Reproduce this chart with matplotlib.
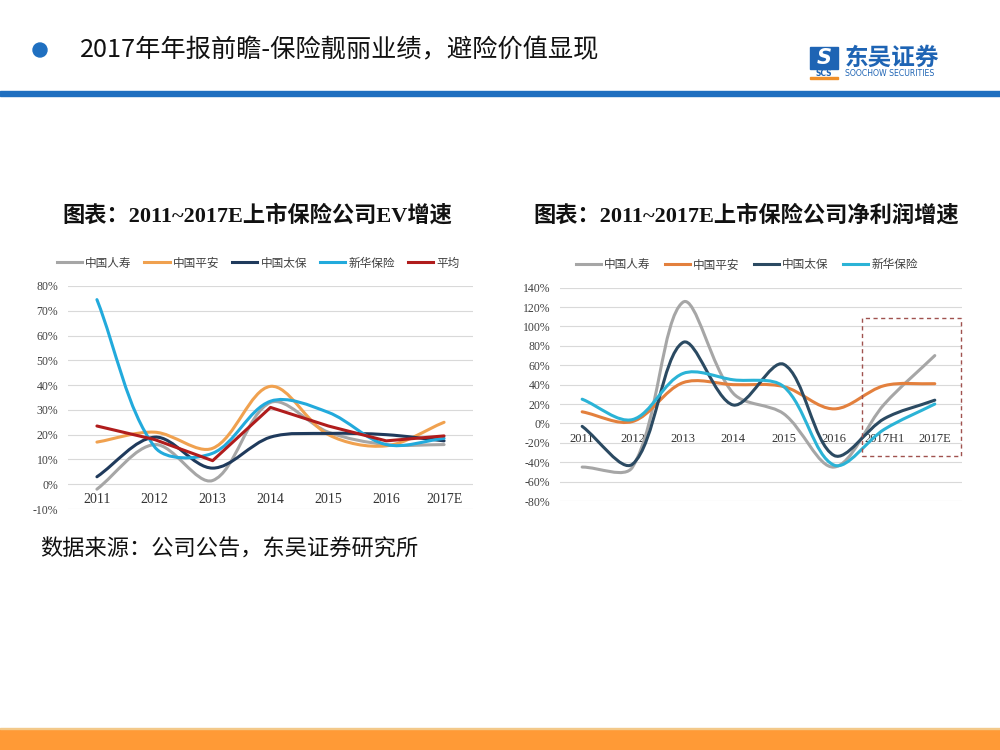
import matplotlib
matplotlib.use("Agg")
import matplotlib.pyplot as plt
import numpy as np
from matplotlib.path import Path
from matplotlib.patches import PathPatch, Rectangle, Ellipse
from matplotlib.lines import Line2D

plt.rcParams['font.family'] = ['Noto Sans CJK SC', 'DejaVu Sans']

# ---------- data (%) ----------
EV_YEARS = ["2011", "2012", "2013", "2014", "2015", "2016", "2017E"]
EV_CHINA_LIFE = [-2, 16, 1.5, 33, 21, 16, 16]
EV_PING_AN = [17, 21, 14.5, 39.5, 20, 15.5, 25]
EV_CPIC = [3, 19, 6.5, 19, 20.5, 20, 17.5]
EV_NCI = [74.5, 15, 12.5, 33.5, 29, 16, 18.5]
EV_AVG = [23.5, 18, 9.5, 31, 23.5, 17.5, 19.5]

NP_YEARS = ["2011", "2012", "2013", "2014", "2015", "2016", "2017H1", "2017E"]
NP_CHINA_LIFE = [-45, -45, 125, 31, 10, -45, 20, 70]
NP_PING_AN = [12, 2, 42, 40, 38, 15, 39, 41]
NP_CPIC = [-3, -42, 83.5, 19, 61, -33, 5, 24]
NP_NCI = [25, 4, 51.5, 45, 38, -43, -6, 20]

EV_TICKS = list(range(-10, 81, 10))
NP_TICKS = list(range(-80, 141, 20))

NAMES = ["中国人寿", "中国平安", "中国太保", "新华保险", "平均"]

# ---------- palette ----------
GREY = "#a6a6a6"
ORANGE_L = "#f0a14f"
ORANGE_R = "#e3803d"
NAVY_L = "#1f3a5c"
NAVY_R = "#2b4a62"
CYAN_L = "#22aadc"
CYAN_R = "#2bb3d6"
RED = "#b01c1c"
GRID = "#d9d9d9"
BLUE = "#1f6fc0"
LOGO_BLUE = "#1e64b4"
BAND_ORANGE = "#ff9a36"
SERIF = ['Liberation Serif', 'Noto Sans CJK SC']


def smooth_line(ax, xs, ys, color, lw=2.2, smooth=True):
    """Excel-style smoothed line: cubic Bezier through the points, with
    tangents scaled by neighbouring segment lengths in screen space."""
    pts = ax.transData.transform(np.column_stack([xs, ys]))
    n = len(pts)
    verts = [pts[0]]
    codes = [Path.MOVETO]
    for i in range(n - 1):
        p1, p2 = pts[i], pts[i + 1]
        if not smooth:
            verts.append(p2)
            codes.append(Path.LINETO)
            continue
        p0 = pts[i - 1] if i > 0 else p1
        p3 = pts[i + 2] if i + 2 < n else p2
        l01 = np.hypot(*(p1 - p0))
        l12 = np.hypot(*(p2 - p1))
        l23 = np.hypot(*(p3 - p2))
        c1 = p1 + (p2 - p0) * l12 / max(l01 + l12, 1e-9) / 3.0
        c2 = p2 - (p3 - p1) * l12 / max(l12 + l23, 1e-9) / 3.0
        verts += [c1, c2, p2]
        codes += [Path.CURVE4] * 3
    verts = ax.transData.inverted().transform(np.array(verts))
    patch = PathPatch(Path(verts, codes), fill=False, edgecolor=color,
                      linewidth=lw, capstyle="round", joinstyle="round",
                      zorder=3, clip_on=False)
    ax.add_patch(patch)


def style_axes(ax, ticks, cats, pad_x, xsize):
    # spine position first: moving it resets the tick labels
    for s in ["top", "right", "left"]:
        ax.spines[s].set_visible(False)
    ax.spines["bottom"].set_position(("data", 0))
    ax.spines["bottom"].set_visible(False)
    ax.set_yticks(ticks)
    ax.set_yticklabels([f"{t}%" for t in ticks], fontfamily=SERIF,
                       fontsize=8.5, color="#404040")
    ax.set_xticks(range(len(cats)))
    ax.set_xticklabels(cats, fontfamily=SERIF, fontsize=xsize, color="#333333")
    ax.grid(axis="y", color=GRID, linewidth=0.8)
    ax.set_axisbelow(True)
    ax.tick_params(axis="y", length=0, pad=7)
    ax.tick_params(axis="x", length=0, pad=pad_x)
    ax.patch.set_alpha(0)


fig = plt.figure(figsize=(10, 7.5), dpi=100)

# ---------- page furniture ----------
fig.patches.append(Ellipse((40 / 1000, 1 - 50 / 750), 14 / 1000, 14 / 750,
                           transform=fig.transFigure, color=BLUE, zorder=5))
fig.text(80 / 1000, 1 - 50 / 750, "2017年年报前瞻-保险靓丽业绩，避险价值显现",
         fontsize=18.2, color="#111111", ha="left", va="center", fontweight="medium")

# logo
fig.patches.append(Rectangle((810 / 1000, 1 - 69 / 750), 28 / 1000, 22 / 750,
                             transform=fig.transFigure, color=LOGO_BLUE))
fig.text(824 / 1000, 1 - 58 / 750, "S", fontsize=15, color="white", ha="center",
         va="center", fontweight="bold", style="italic", family="DejaVu Sans")
fig.text(824 / 1000, 1 - 73.5 / 750, "SCS", fontsize=5.5, color=LOGO_BLUE, ha="center",
         va="center", fontweight="bold", family="DejaVu Sans")
fig.patches.append(Rectangle((810 / 1000, 1 - 79 / 750), 28 / 1000, 2.5 / 750,
                             transform=fig.transFigure, color="#f0902a"))
fig.text(845 / 1000, 1 - 58 / 750, "东吴证券", fontsize=17, color=LOGO_BLUE,
         ha="left", va="center", fontweight="bold")
fig.text(845 / 1000, 1 - 74 / 750, "SOOCHOW SECURITIES", fontsize=5.6,
         color=LOGO_BLUE, ha="left", va="center", family="DejaVu Sans")

fig.patches.append(Rectangle((0, 1 - 95.5 / 750), 1, 4.5 / 750,
                             transform=fig.transFigure, color=BLUE))
fig.patches.append(Rectangle((0, 0), 1, 21 / 750, transform=fig.transFigure,
                             color=BAND_ORANGE))
fig.patches.append(Rectangle((0, 21 / 750), 1, 1.2 / 750, transform=fig.transFigure,
                             color="#f3c98a"))

# titles and source
fig.text(62 / 1000, 1 - 216 / 750, "图表：2011~2017E上市保险公司EV增速",
         fontsize=16, fontweight="bold", family=SERIF, ha="left", va="center",
         color="#111111")
fig.text(533 / 1000, 1 - 216 / 750, "图表：2011~2017E上市保险公司净利润增速",
         fontsize=16, fontweight="bold", family=SERIF, ha="left", va="center",
         color="#111111")
fig.text(40 / 1000, 1 - 549 / 750, "数据来源：公司公告，东吴证券研究所",
         fontsize=16, ha="left", va="center", color="#111111", fontweight="medium")

# ---------- left chart: EV growth ----------
axl = fig.add_axes([68 / 1000, 1 - 509 / 750, 405 / 1000, 223 / 750])
axl.set_xlim(-0.5, 6.5)
axl.set_ylim(-10, 80)
style_axes(axl, EV_TICKS, EV_YEARS, pad_x=6, xsize=10)
xl = np.arange(len(EV_YEARS))
left_series = [(EV_CHINA_LIFE, GREY), (EV_PING_AN, ORANGE_L), (EV_CPIC, NAVY_L),
               (EV_NCI, CYAN_L)]
for vals, col in left_series:
    smooth_line(axl, xl, vals, col)
smooth_line(axl, xl, EV_AVG, RED, smooth=False)

handles_l = [Line2D([], [], color=c, lw=2.2) for c in
             [GREY, ORANGE_L, NAVY_L, CYAN_L, RED]]
fig.legend(handles_l, NAMES, loc="center", bbox_to_anchor=(258 / 1000, 1 - 263 / 750),
           ncol=5, frameon=False, fontsize=8.4, handlelength=2.15, handletextpad=0.25,
           columnspacing=1.15, labelcolor="#404040")

# ---------- right chart: net profit growth ----------
axr = fig.add_axes([560 / 1000, 1 - 501 / 750, 402 / 1000, 213.3 / 750])
axr.set_xlim(-0.44, 7.54)
axr.set_ylim(-80, 140)
style_axes(axr, NP_TICKS, NP_YEARS, pad_x=7, xsize=9)
xr = np.arange(len(NP_YEARS))
right_series = [(NP_CHINA_LIFE, GREY), (NP_PING_AN, ORANGE_R), (NP_CPIC, NAVY_R),
                (NP_NCI, CYAN_R)]
for vals, col in right_series:
    smooth_line(axr, xr, vals, col)

axr.add_patch(Rectangle((5.56, -34), 1.97, 143, fill=False, edgecolor="#a0524f",
                        linewidth=1.0, linestyle=(0, (3, 2.5)), zorder=4, clip_on=False))

handles_r = [Line2D([], [], color=c, lw=2.2) for c in [GREY, ORANGE_R, NAVY_R, CYAN_R]]
fig.legend(handles_r, NAMES[:4], loc="center", bbox_to_anchor=(747 / 1000, 1 - 265 / 750),
           ncol=4, frameon=False, fontsize=8.4, handlelength=2.15, handletextpad=0.25,
           columnspacing=1.25, labelcolor="#404040")

fig.savefig("out.png", dpi=100, facecolor="white")
